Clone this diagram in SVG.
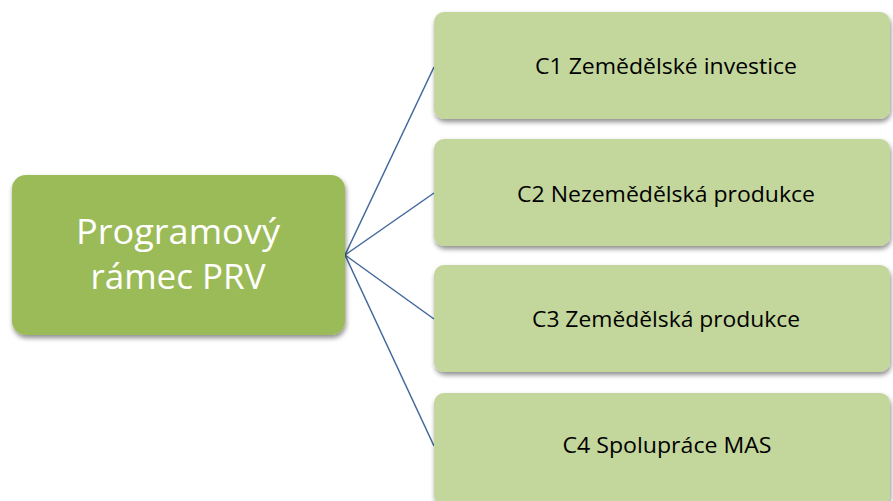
<svg xmlns="http://www.w3.org/2000/svg" width="893" height="501" viewBox="0 0 893 501">
<style>
.main{fill:#9BBB59;}
.child{fill:#C3D69B;}
.mt{font-family:"Open Sans","Liberation Sans",sans-serif;font-size:35px;fill:#FFFFFF;text-anchor:middle;}
.ct{font-family:"Open Sans","Liberation Sans",sans-serif;font-size:21px;fill:#000000;text-anchor:middle;}
.conn{stroke:#41679B;stroke-width:1.5;fill:none;}
</style>
<defs>
<filter id="sh" x="-10%" y="-10%" width="120%" height="130%">
<feGaussianBlur in="SourceAlpha" stdDeviation="2.5"/>
<feOffset dx="1" dy="3" result="b"/>
<feComponentTransfer><feFuncA type="linear" slope="0.45"/></feComponentTransfer>
<feMerge><feMergeNode/><feMergeNode in="SourceGraphic"/></feMerge>
</filter>
</defs>
<rect width="893" height="501" fill="#FFFFFF"/>
<g id="connectors">
<line class="conn" x1="345" y1="255" x2="434" y2="67"/>
<line class="conn" x1="345" y1="255" x2="434" y2="193"/>
<line class="conn" x1="345" y1="255" x2="434" y2="319"/>
<line class="conn" x1="345" y1="255" x2="434" y2="446"/>
</g>
<g id="main">
<rect class="main" x="12" y="175" width="333" height="160" rx="14" filter="url(#sh)"/>
<text class="mt" x="178" y="244" textLength="204" lengthAdjust="spacingAndGlyphs">Programový</text>
<text class="mt" x="178" y="289">rámec PRV</text>
</g>
<g id="c1">
<rect class="child" x="434" y="12" width="456" height="107" rx="10" filter="url(#sh)"/>
<text class="ct" x="666" y="74" textLength="262" lengthAdjust="spacingAndGlyphs">C1 Zemědělské investice</text>
</g>
<g id="c2">
<rect class="child" x="434" y="139" width="456" height="107" rx="10" filter="url(#sh)"/>
<text class="ct" x="666" y="202" textLength="298" lengthAdjust="spacingAndGlyphs">C2 Nezemědělská produkce</text>
</g>
<g id="c3">
<rect class="child" x="434" y="265" width="456" height="107" rx="10" filter="url(#sh)"/>
<text class="ct" x="666" y="327" textLength="268" lengthAdjust="spacingAndGlyphs">C3 Zemědělská produkce</text>
</g>
<g id="c4">
<rect class="child" x="434" y="393" width="456" height="112" rx="10" filter="url(#sh)"/>
<text class="ct" x="667" y="453" textLength="209" lengthAdjust="spacingAndGlyphs">C4 Spolupráce MAS</text>
</g>
</svg>
